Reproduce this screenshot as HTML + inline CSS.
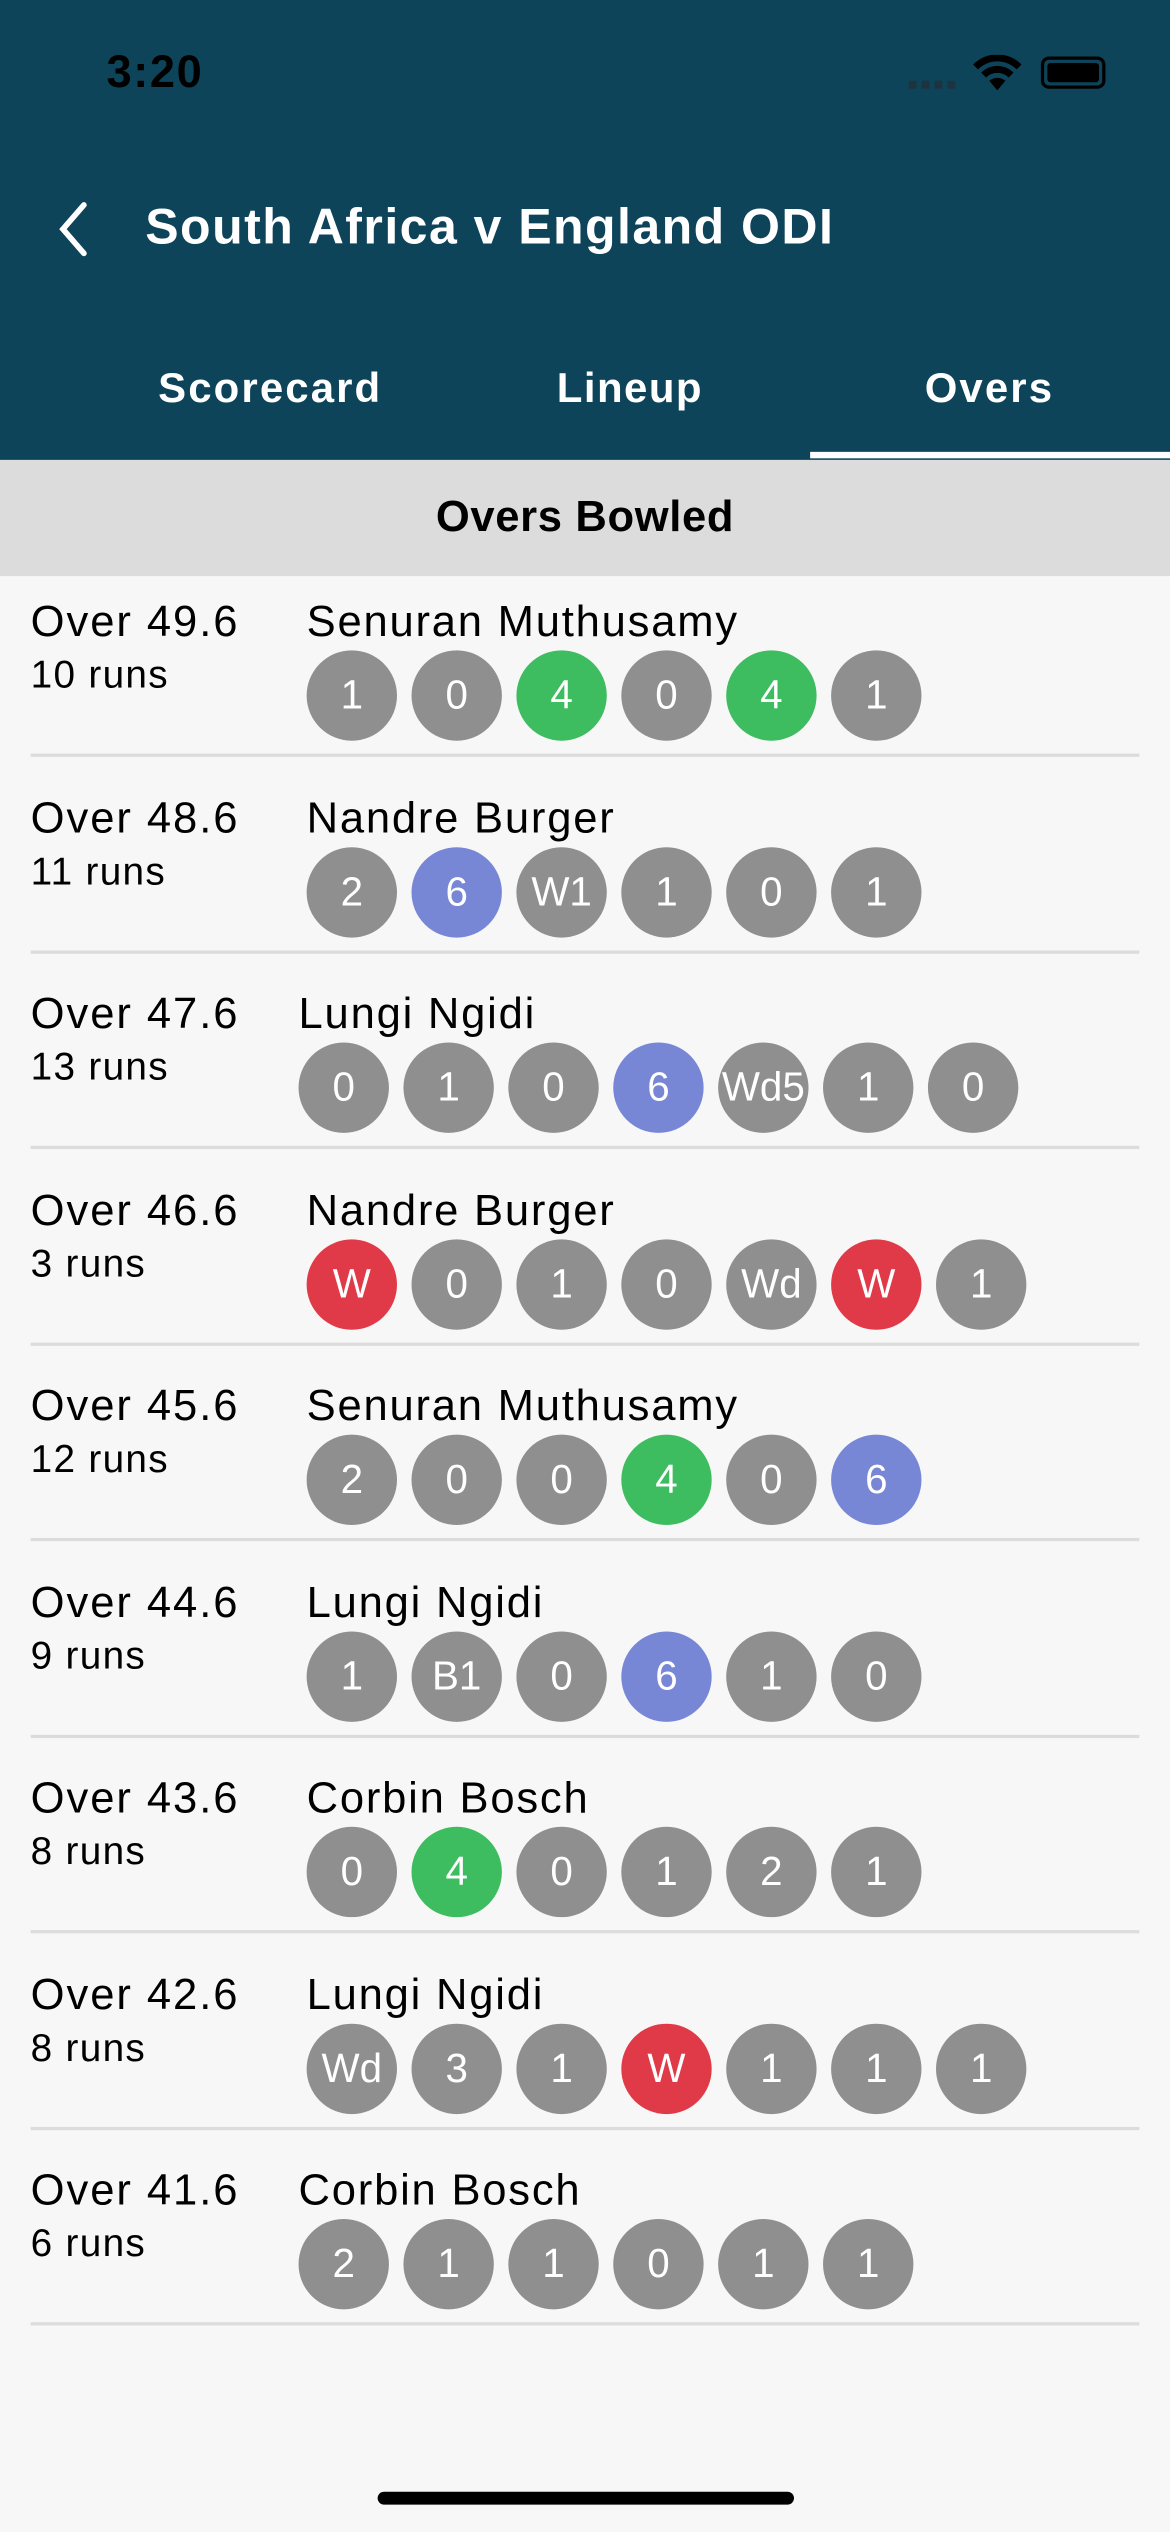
<!DOCTYPE html>
<html><head><meta charset="utf-8">
<style>
html,body{margin:0;padding:0;width:1170px;height:2532px;overflow:hidden;background:#f7f7f7;font-family:"Liberation Sans",sans-serif;}
#wrap{position:absolute;left:0;top:0;width:725px;height:1569px;transform:scale(1.61379);transform-origin:0 0;}
.abs{position:absolute;}
#hdr{left:0;top:0;width:725px;height:285px;background:#0d4459;}
.t{white-space:nowrap;line-height:1;}
.ball{position:absolute;width:56px;height:56px;border-radius:50%;color:#fff;font-size:25px;text-align:center;line-height:56px;}
.sep{position:absolute;left:19px;width:687px;height:2px;background:#dcdcdc;}
</style></head><body>
<div id="wrap">
<div id="hdr" class="abs"></div>
<div class="abs t" style="left:66px;top:31px;font-size:28px;font-weight:bold;color:#000;letter-spacing:1px;">3:20</div>
<div class="abs" style="left:563px;top:50px;width:30px;height:5px;background:repeating-linear-gradient(90deg,#1d3340 0 5px,transparent 5px 8px);"></div>
<svg class="abs" style="left:602px;top:34px" width="32" height="24" viewBox="0 0 32 24"><path d="M16 22 L11 16 A8 8 0 0 1 21 16 Z M6 11 A14 14 0 0 1 26 11 L23 14 A10 10 0 0 0 9 14Z M1 6 A21 21 0 0 1 31 6 L28 9 A17 17 0 0 0 4 9Z" fill="#000"/></svg>
<div class="abs" style="left:645px;top:35px;width:40px;height:20px;border:2px solid #000;border-radius:5px;box-sizing:border-box;padding:2px;"><div style="width:100%;height:100%;background:#000;border-radius:2px"></div></div>
<svg class="abs" style="left:34px;top:124px" width="24" height="36" viewBox="0 0 24 36"><path d="M18 3 L5 18 L18 33" stroke="#fff" stroke-width="3.5" fill="none" stroke-linecap="round"/></svg>
<div class="abs t" style="left:90px;top:125px;font-size:31px;font-weight:bold;color:#fff;letter-spacing:0.9px;">South Africa v England ODI</div>
<div class="abs t" style="left:98px;top:227px;font-size:26px;font-weight:bold;color:#fff;letter-spacing:1.3px;">Scorecard</div>
<div class="abs t" style="left:345px;top:227px;font-size:26px;font-weight:bold;color:#fff;letter-spacing:0.9px;">Lineup</div>
<div class="abs t" style="left:573px;top:227px;font-size:26px;font-weight:bold;color:#fff;letter-spacing:1.3px;">Overs</div>
<div class="abs" style="left:502px;top:280px;width:223px;height:4px;background:#fff;"></div>
<div class="abs" style="left:0;top:285px;width:725px;height:72px;background:#dcdcdc;"></div>
<div class="abs t" style="left:0;width:725px;text-align:center;top:307px;font-size:27px;font-weight:bold;color:#000;letter-spacing:0.4px;">Overs Bowled</div>
<div id="list"></div>
<div class="abs" style="left:234px;top:1544px;width:258px;height:8px;border-radius:4px;background:#000;"></div>
</div>
<script>
const overs=["49.6","48.6","47.6","46.6","45.6","44.6","43.6","42.6","41.6"];
const runs=[10,11,13,3,12,9,8,8,6];
const bowlers=["Senuran Muthusamy","Nandre Burger","Lungi Ngidi","Nandre Burger","Senuran Muthusamy","Lungi Ngidi","Corbin Bosch","Lungi Ngidi","Corbin Bosch"];
const balls=[["1","0","4","0","4","1"],["2","6","W1","1","0","1"],["0","1","0","6","Wd5","1","0"],["W","0","1","0","Wd","W","1"],["2","0","0","4","0","6"],["1","B1","0","6","1","0"],["0","4","0","1","2","1"],["Wd","3","1","W","1","1","1"],["2","1","1","0","1","1"]];
const indent=[0,0,1,0,0,0,0,0,1];
function col(b){if(b==="4")return"#3dbd5f";if(b==="6")return"#7787d6";if(b==="W")return"#e03a48";return"#8f8f8f";}
const list=document.getElementById('list');
overs.forEach((o,i)=>{
  const s=347+121.5*i;const x0=indent[i]?185:190;
  const row=document.createElement('div');
  
  
  row.innerHTML=`<div class="abs t" style="left:19px;top:${s+25}px;font-size:27px;letter-spacing:1.2px;color:#000">Over ${o}</div>
<div class="abs t" style="left:19px;top:${s+60}px;font-size:24px;letter-spacing:0.8px;color:#000">${runs[i]} runs</div>
<div class="abs t" style="left:${x0}px;top:${s+25}px;font-size:27px;letter-spacing:1.1px;color:#000">${bowlers[i]}</div>`;
  balls[i].forEach((b,j)=>{
    const d=document.createElement('div');
    d.className='ball';
    
    
    d.style.left=(x0+65*j)+'px';d.style.top=(s+56)+'px';d.style.background=col(b);
    d.textContent=b;row.appendChild(d);
  });
  const sp=document.createElement('div');sp.className='sep';
  
  
  sp.style.top=(s+120)+'px';row.appendChild(sp);
  list.appendChild(row);
});
</script>
</body></html>
